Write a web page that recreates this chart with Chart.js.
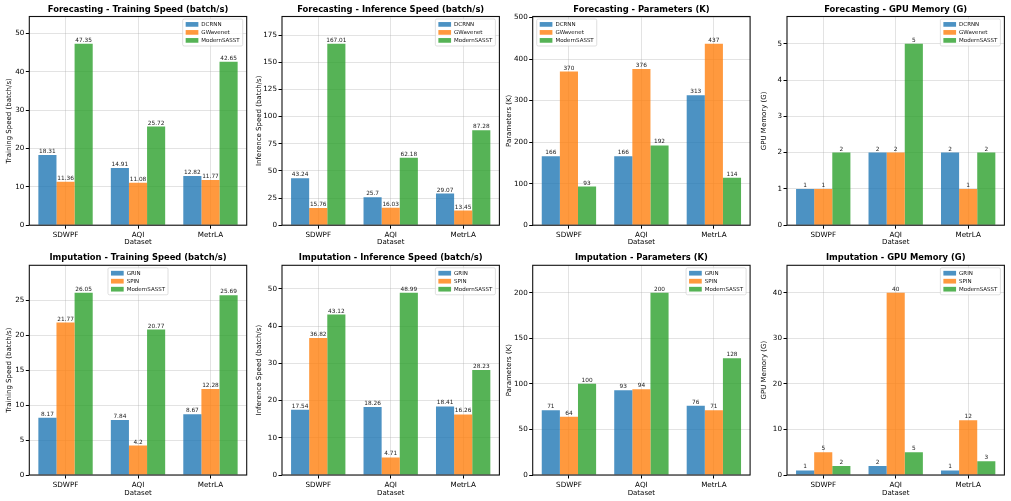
<!DOCTYPE html>
<html>
<head>
<meta charset="utf-8">
<script src="https://cdn.jsdelivr.net/npm/chart.js@4.4.0/dist/chart.umd.min.js"></script>
<style>
  body { margin: 0; background: #fff; }
  #wrap { position: relative; width: 1011px; height: 501px; }
  canvas { position: absolute; }
</style>
</head>
<body>
<div id="wrap"></div>
<script>
// categories and models
const datasetNames = ["SDWPF", "AQI", "MetrLA"];
const forecastModels = ["DCRNN", "GWavenet", "ModernSASST"];
const imputeModels = ["GRIN", "SPIN", "ModernSASST"];

// forecasting values
const fcTrainDCRNN = [18.31, 14.91, 12.82];
const fcTrainGWavenet = [11.36, 11.08, 11.77];
const fcTrainModern = [47.35, 25.72, 42.65];

const fcInferDCRNN = [43.24, 25.7, 29.07];
const fcInferGWavenet = [15.76, 16.03, 13.45];
const fcInferModern = [167.01, 62.18, 87.28];

const fcParamsDCRNN = [166, 166, 313];
const fcParamsGWavenet = [370, 376, 437];
const fcParamsModern = [93, 192, 114];

const fcMemDCRNN = [1, 2, 2];
const fcMemGWavenet = [1, 2, 1];
const fcMemModern = [2, 5, 2];

// imputation values
const imTrainGRIN = [8.17, 7.84, 8.67];
const imTrainSPIN = [21.77, 4.2, 12.28];
const imTrainModern = [26.05, 20.77, 25.69];

const imInferGRIN = [17.54, 18.26, 18.41];
const imInferSPIN = [36.82, 4.71, 16.26];
const imInferModern = [43.12, 48.99, 28.23];

const imParamsGRIN = [71, 93, 76];
const imParamsSPIN = [64, 94, 71];
const imParamsModern = [100, 200, 128];

const imMemGRIN = [1, 2, 1];
const imMemSPIN = [5, 40, 12];
const imMemModern = [2, 5, 3];

// y tick steps
const yStepsTop = [10, 25, 100, 1];
const yStepsBottom = [5, 10, 50, 10];

const colors = ["rgba(31,119,180,0.8)", "rgba(255,127,14,0.8)", "rgba(44,160,44,0.8)"];
const FONT = '"DejaVu Sans", sans-serif';

const colX = [0, 250, 500, 755];
const colW = [250, 252, 253, 252];
const yAxisW = [29.3, 32, 32.7, 32];
const rowY = [0, 250];
const rowH = [250, 251];
const plotTop = [16.5, 15.3];
const xAxisH = [24.8, 26];

const decor = {
  id: "decor",
  afterDatasetsDraw(chart, args, opts) {
    const ctx = chart.ctx;
    const a = chart.chartArea;
    ctx.save();
    // value labels
    ctx.font = "5.8px " + FONT;
    ctx.fillStyle = "#222";
    ctx.textAlign = "center";
    ctx.textBaseline = "alphabetic";
    chart.data.datasets.forEach((ds, i) => {
      chart.getDatasetMeta(i).data.forEach((bar, j) => {
        ctx.fillText(String(ds.data[j]), bar.x, bar.y - 2);
      });
    });
    // spines
    ctx.strokeStyle = "#111";
    ctx.lineWidth = 1.1;
    ctx.strokeRect(a.left, a.top, a.right - a.left, a.bottom - a.top);
    // title
    ctx.font = "bold 8.4px " + FONT;
    ctx.fillStyle = "#000";
    ctx.textBaseline = "middle";
    ctx.fillText(opts.title, (a.left + a.right) / 2, a.top - 7);
    // legend
    ctx.font = "5.5px " + FONT;
    const labels = chart.data.datasets.map(d => d.label);
    const tw = Math.max(...labels.map(l => ctx.measureText(l).width));
    const bw = 3 + 12.7 + 3 + tw + 3;
    const bh = 27;
    let bx;
    if (opts.legendLoc === "left") bx = a.left + 4;
    else if (opts.legendLoc === "center") bx = (a.left + a.right) / 2 - bw / 2;
    else bx = a.right - 4 - bw;
    const by = a.top + 2.5;
    ctx.beginPath();
    ctx.roundRect(bx, by, bw, bh, 1.5);
    ctx.fillStyle = "rgba(255,255,255,0.8)";
    ctx.fill();
    ctx.strokeStyle = "rgba(204,204,204,0.8)";
    ctx.lineWidth = 0.8;
    ctx.stroke();
    ctx.textAlign = "left";
    labels.forEach((l, i) => {
      const cy = by + 5.4 + 8 * i;
      ctx.fillStyle = colors[i];
      ctx.fillRect(bx + 3, cy - 2.35, 12.7, 4.7);
      ctx.fillStyle = "#111";
      ctx.fillText(l, bx + 3 + 12.7 + 3, cy);
    });
    ctx.restore();
  }
};

function makePanel(row, col, title, yLabel, models, series, step, legendLoc) {
  const canvas = document.createElement("canvas");
  canvas.width = colW[col];
  canvas.height = rowH[row];
  canvas.style.left = colX[col] + "px";
  canvas.style.top = rowY[row] + "px";
  document.getElementById("wrap").appendChild(canvas);

  const ymax = Math.max(...series.flat()) * 1.15;

  new Chart(canvas, {
    type: "bar",
    data: {
      labels: datasetNames,
      datasets: models.map((m, i) => ({
        label: m,
        data: series[i],
        backgroundColor: colors[i],
        borderWidth: 0,
        barPercentage: 1.0,
        categoryPercentage: 0.75
      }))
    },
    options: {
      responsive: false,
      animation: false,
      devicePixelRatio: 1,
      layout: { padding: { top: plotTop[row], right: colW[col] - yAxisW[col] - 217.4, left: 0, bottom: 0 } },
      plugins: {
        legend: { display: false },
        tooltip: { enabled: false },
        decor: { title: title, legendLoc: legendLoc }
      },
      scales: {
        x: {
          grid: { color: "rgba(176,176,176,0.35)", lineWidth: 1, offset: false, tickColor: "#000", tickLength: 3.5 },
          border: { display: false },
          ticks: { color: "#000", font: { family: FONT, size: 7.2 }, padding: 2, maxRotation: 0 },
          title: { display: true, text: "Dataset", color: "#000", font: { family: FONT, size: 7 }, padding: { top: 0, bottom: 3.5 } },
          afterFit: s => { s.height = xAxisH[row]; }
        },
        y: {
          min: 0,
          max: ymax,
          grid: { color: "rgba(176,176,176,0.35)", lineWidth: 1, tickColor: "#000", tickLength: 3.5 },
          border: { display: false },
          ticks: { color: "#000", font: { family: FONT, size: 7.2 }, padding: 1.5 },
          title: { display: true, text: yLabel, color: "#000", font: { family: FONT, size: 7 }, padding: { top: 5, bottom: 0 } },
          afterBuildTicks: s => {
            const t = [];
            for (let v = 0; v <= ymax + 1e-9; v += step) t.push({ value: v });
            s.ticks = t;
          },
          afterFit: s => { s.width = yAxisW[col]; }
        }
      }
    },
    plugins: [decor]
  });
}

makePanel(0, 0, "Forecasting - Training Speed (batch/s)", "Training Speed (batch/s)", forecastModels,
  [fcTrainDCRNN, fcTrainGWavenet, fcTrainModern], yStepsTop[0], "right");
makePanel(0, 1, "Forecasting - Inference Speed (batch/s)", "Inference Speed (batch/s)", forecastModels,
  [fcInferDCRNN, fcInferGWavenet, fcInferModern], yStepsTop[1], "right");
makePanel(0, 2, "Forecasting - Parameters (K)", "Parameters (K)", forecastModels,
  [fcParamsDCRNN, fcParamsGWavenet, fcParamsModern], yStepsTop[2], "left");
makePanel(0, 3, "Forecasting - GPU Memory (G)", "GPU Memory (G)", forecastModels,
  [fcMemDCRNN, fcMemGWavenet, fcMemModern], yStepsTop[3], "right");

makePanel(1, 0, "Imputation - Training Speed (batch/s)", "Training Speed (batch/s)", imputeModels,
  [imTrainGRIN, imTrainSPIN, imTrainModern], yStepsBottom[0], "center");
makePanel(1, 1, "Imputation - Inference Speed (batch/s)", "Inference Speed (batch/s)", imputeModels,
  [imInferGRIN, imInferSPIN, imInferModern], yStepsBottom[1], "right");
makePanel(1, 2, "Imputation - Parameters (K)", "Parameters (K)", imputeModels,
  [imParamsGRIN, imParamsSPIN, imParamsModern], yStepsBottom[2], "right");
makePanel(1, 3, "Imputation - GPU Memory (G)", "GPU Memory (G)", imputeModels,
  [imMemGRIN, imMemSPIN, imMemModern], yStepsBottom[3], "right");
</script>
</body>
</html>
